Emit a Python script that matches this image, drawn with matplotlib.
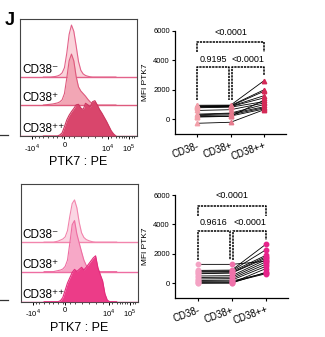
import numpy as np
import matplotlib
import matplotlib.pyplot as plt
from matplotlib.lines import Line2D

matplotlib.use("Agg")

plt.rcParams["font.family"] = ["Liberation Sans", "DejaVu Sans"]
plt.rcParams["mathtext.fontset"] = "custom"
plt.rcParams["mathtext.rm"] = "Liberation Sans"

# PTK7:PE channel grid shared by every histogram
channel = [200, 220, 240, 260, 280, 300, 320, 340, 360, 380, 400, 420, 440, 460, 480,
           500, 520, 540, 560, 580, 600, 620, 640, 660, 680, 700, 720, 740, 760, 780,
           800, 820]

# relative cell counts (CD38-, CD38+, CD38++) for the two donors groups
hist_top_neg = [0, 0, 0, 0, 0.5, 1, 2, 4, 8, 18, 46, 82, 100, 88, 60,
                30, 13, 6, 3, 1.5, 0.5, 0, 0, 0, 0, 0, 0, 0, 0, 0, 0, 0]
hist_top_pos = [0, 0.5, 1, 1.5, 2, 3, 4, 6, 10, 22, 52, 85, 98, 85, 55,
                35, 27, 22, 17, 11, 6, 3, 1, 0, 0, 0, 0, 0, 0, 0, 0, 0]
hist_top_pp = [0, 0, 0, 0, 0, 0, 0, 2, 6, 18, 31, 40, 47, 53, 60,
               61, 54, 51, 63, 60, 56, 66, 68, 60, 51, 44, 36, 28, 19, 10, 4, 0]

hist_bot_neg = [0, 0, 0, 0, 0, 1, 2, 4, 6, 10, 22, 50, 74, 81, 66,
                38, 18, 9, 5, 3, 1.5, 0.5, 0, 0, 0, 0, 0, 0, 0, 0, 0, 0]
hist_bot_pos = [0, 0, 0, 0, 0, 1, 2, 3, 5, 10, 22, 55, 90, 98, 72,
                55, 38, 22, 12, 6, 3, 1, 0, 0, 0, 0, 0, 0, 0, 0, 0, 0]
hist_bot_pp = [0, 0, 0, 0, 0, 0, 0, 2, 8, 22, 36, 46, 56, 62, 58,
               62, 66, 61, 66, 72, 78, 84, 88, 65, 52, 40, 15, 3, 0, 0, 0, 0]

hist_labels = ["CD38\u207b", "CD38\u207a", "CD38\u207a\u207a"]
axis_ticks = [103, 380, 752, 932]
axis_ticklabels = ["-10$^4$", "0", "10$^4$", "10$^5$"]

# MFI PTK7 per donor
groups = ["CD38-", "CD38+", "CD38++"]
mfi_top_neg = [950, 900, 880, 850, 820, 780, 600, 350, 300, 250, 180, 150, -270]
mfi_top_pos = [960, 930, 900, 880, 860, 820, 650, 420, 380, 300, 220, 200, -200]
mfi_top_pp = [2620, 2000, 1900, 1600, 1450, 1200, 1100, 1000, 850, 780, 700, 1300, 650]

mfi_bot_neg = [1290, 880, 820, 780, 700, 650, 500, 400, 300, 200, 150, 100, 50, 0]
mfi_bot_pos = [1290, 900, 850, 800, 720, 700, 520, 420, 320, 220, 150, 80, 30, 20]
mfi_bot_pp = [1500, 2650, 2270, 1900, 1800, 1700, 1600, 1450, 1300, 1150, 700, 650, 1000, 750]

pvals_top = ["<0.0001", "0.9195", "<0.0001"]
pvals_bot = ["<0.0001", "0.9616", "<0.0001"]

fig = plt.figure(figsize=(3.25, 3.37), dpi=100)


def draw_hist(ax, curves, fills, edges, offsets, scale):
    x = np.array(channel)
    # back ridge first, so the lower ridges overlap it
    for i in range(3):
        y = np.array(curves[i]) * scale + offsets[i]
        z = 1 + i
        ax.fill_between(x, offsets[i], y, color=fills[i], lw=0, zorder=z)
        ax.plot([0, 1000], [offsets[i], offsets[i]], color=edges[i], lw=1.0, zorder=z)
        ax.plot(x, y, color=edges[i], lw=0.8, zorder=z)
        ax.text(18, offsets[i] + 1, hist_labels[i], fontsize=8.5, ha="left",
                va="bottom", zorder=10)
    ax.set_xlim(0, 1000)
    ax.set_ylim(0, 117)
    ax.set_yticks([])
    ax.set_xticks(axis_ticks)
    ax.set_xticklabels(axis_ticklabels, fontsize=5.5)
    ax.set_xticks([130, 160, 200, 240, 280, 320, 360, 420, 460, 520, 580, 640, 700,
                   780, 820, 850, 870, 890, 910, 960, 975], minor=True)
    ax.tick_params(axis="x", which="major", length=2.5, width=0.7, pad=1.5)
    ax.tick_params(axis="x", which="minor", length=1.5, width=0.5)
    for s in ax.spines.values():
        s.set_color("#444444")
        s.set_linewidth(0.8)
    ax.set_xlabel("PTK7 : PE", fontsize=9, labelpad=2)


def draw_mfi(ax, neg, pos, pp, colors, marker, pvals, brk):
    xs = [0, 1, 2]
    for a, b, c in zip(neg, pos, pp):
        ax.plot(xs, [a, b, c], color="black", lw=0.6, zorder=2)
    for i, vals in enumerate([neg, pos, pp]):
        ax.plot([xs[i]] * len(vals), vals, ls="none", marker=marker, ms=3.2,
                color=colors[i], mec=colors[i], zorder=3)
    dash = (0, (1.5, 0.6))
    kw = dict(color="black", lw=1.1, ls=dash, zorder=1)
    top, top_leg, low, low_leg, right_leg = brk
    ax.plot([0, 0, 2, 2], [top_leg, top, top, top_leg], **kw)
    ax.plot([0, 0, 0.96, 0.96], [low_leg, low, low, low_leg], **kw)
    ax.plot([1.04, 1.04, 2, 2], [low_leg, low, low, right_leg], **kw)
    ax.text(1, top + 350, pvals[0], fontsize=6.5, ha="center", va="bottom")
    ax.text(0.47, low + 250, pvals[1], fontsize=6.5, ha="center", va="bottom")
    ax.text(1.53, low + 250, pvals[2], fontsize=6.5, ha="center", va="bottom")
    ax.set_xlim(-0.67, 2.65)
    ax.set_ylim(-1016, 6000)
    ax.set_yticks([0, 2000, 4000, 6000])
    ax.set_xticks(xs)
    ax.set_xticklabels(groups, rotation=20, ha="right", rotation_mode="anchor",
                       fontsize=7)
    ax.tick_params(axis="y", labelsize=5.5, length=2.5, width=0.8, pad=1)
    ax.tick_params(axis="x", length=2.5, width=0.8, pad=2)
    ax.spines["top"].set_visible(False)
    ax.spines["right"].set_visible(False)
    for s in ["left", "bottom"]:
        ax.spines[s].set_linewidth(0.9)
    ax.set_ylabel("MFI PTK7", fontsize=6, labelpad=3)


# upper row
ax1 = fig.add_axes([0.0615, 0.5964, 0.36, 0.347])
draw_hist(ax1, [hist_top_neg, hist_top_pos, hist_top_pp],
          ["#fad3da", "#f2a6b5", "#d9466c"],
          ["#e3628a", "#de5a7d", "#cc3760"], [59, 31, 0], 0.52)

ax2 = fig.add_axes([0.538, 0.6015, 0.3415, 0.3074])
draw_mfi(ax2, mfi_top_neg, mfi_top_pos, mfi_top_pp,
         ["#f2a0aa", "#e67a8d", "#d42a57"], "^", pvals_top,
         [5220, 4583, 3525, 1308, 3003])

# lower row
ax3 = fig.add_axes([0.0637, 0.1048, 0.36, 0.348])
draw_hist(ax3, [hist_bot_neg, hist_bot_pos, hist_bot_pp],
          ["#fbd6e3", "#f7a8c7", "#ec3c88"],
          ["#f285ad", "#ee6da2", "#e22c7c"], [59.4, 30, 0], 0.52)

ax4 = fig.add_axes([0.538, 0.1148, 0.3477, 0.3065])
draw_mfi(ax4, mfi_bot_neg, mfi_bot_pos, mfi_bot_pp,
         ["#f4a3c4", "#ef72aa", "#e6248a"], "o", pvals_bot,
         [5279, 4599, 3558, 1585, 2946])

fig.text(0.015, 0.965, "J", fontsize=13, fontweight="bold", va="top")
fig.add_artist(Line2D([0, 0.025], [1 - 135 / 337] * 2, color="#333333", lw=0.9))
fig.add_artist(Line2D([0, 0.025], [1 - 300 / 337] * 2, color="#333333", lw=0.9))

fig.savefig("out.png", dpi=100)
